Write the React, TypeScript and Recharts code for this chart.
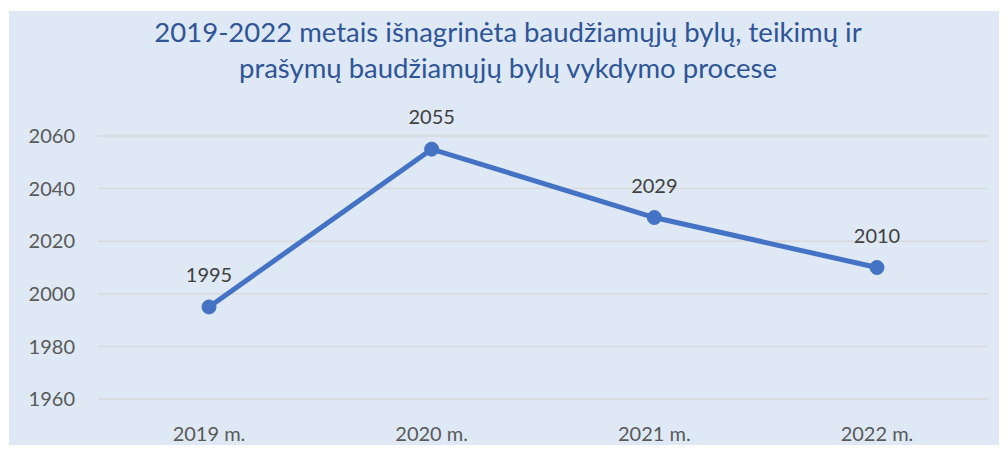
import React from "react";
import {
  LineChart,
  Line,
  XAxis,
  YAxis,
  CartesianGrid,
  LabelList,
} from "recharts";

const YEARS = ["2019 m.", "2020 m.", "2021 m.", "2022 m."];
const CASES = [1995, 2055, 2029, 2010];
const Y_TICKS = [1960, 1980, 2000, 2020, 2040, 2060];

const TITLE_LINES = [
  "2019-2022 metais išnagrinėta baudžiamųjų bylų, teikimų ir",
  "prašymų baudžiamųjų bylų vykdymo procese",
];

const data = YEARS.map((year, i) => ({ year, value: CASES[i] }));

const FONT = "Lato, 'Noto Sans', sans-serif";

export default function App() {
  return (
    <div style={{ position: "relative", margin: -8, width: 1007, height: 453 }}>
      <div
        style={{
          position: "absolute",
          left: 9,
          top: 11,
          width: 998,
          height: 442,
          background: "#dee9f5",
        }}
      >
        <div
          style={{
            position: "absolute",
            top: 3,
            left: 0,
            width: 998,
            textAlign: "center",
            fontFamily: FONT,
            fontSize: 27.5,
            lineHeight: "36px",
            color: "#2f5597",
          }}
        >
          {TITLE_LINES.map((t) => (
            <div key={t}>{t}</div>
          ))}
        </div>
        <LineChart
          width={998}
          height={442}
          data={data}
          margin={{ top: 125, right: 19, bottom: 0, left: 0 }}
          style={{ position: "absolute", left: 0, top: 0, fontFamily: FONT }}
        >
          <CartesianGrid
            vertical={false}
            stroke="#d9d9d9"
            strokeWidth={1.5}
          />
          <XAxis
            dataKey="year"
            axisLine={false}
            tickLine={false}
            tickSize={0}
            tickMargin={28}
            height={54}
            padding={{ left: 111, right: 111 }}
            tick={{ fill: "#595959", fontSize: 20 }}
          />
          <YAxis
            domain={[1960, 2060]}
            ticks={Y_TICKS}
            axisLine={false}
            tickLine={false}
            tickSize={0}
            tickMargin={23}
            width={89}
            tick={{ fill: "#595959", fontSize: 20 }}
          />
          <Line
            dataKey="value"
            stroke="#4472c4"
            strokeWidth={5}
            dot={{ r: 7, fill: "#4472c4", stroke: "#4472c4", strokeWidth: 1 }}
            activeDot={false}
            isAnimationActive={false}
          >
            <LabelList
              dataKey="value"
              position="top"
              offset={25}
              fill="#404040"
              fontSize={20}
            />
          </Line>
        </LineChart>
      </div>
    </div>
  );
}
